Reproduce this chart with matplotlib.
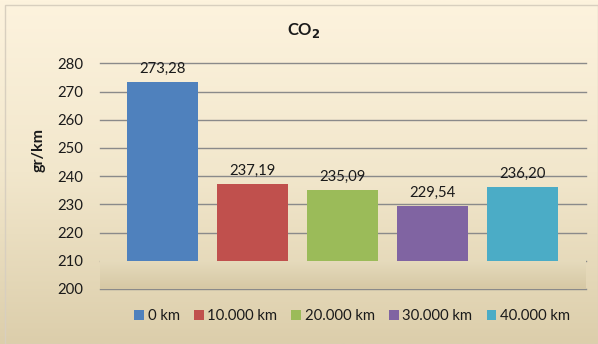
import numpy as np
import matplotlib
matplotlib.use('Agg')
import matplotlib.pyplot as plt
from matplotlib.colors import LinearSegmentedColormap
from matplotlib.patches import Rectangle, Patch

plt.rcParams['font.family'] = ['Lato', 'DejaVu Sans']

# data
distances = ['0 km', '10.000 km', '20.000 km', '30.000 km', '40.000 km']
co2 = [273.28, 237.19, 235.09, 229.54, 236.20]
colors = ['#4f81bd', '#c0504d', '#9bbb59', '#8064a2', '#4bacc6']
yticks = [200, 210, 220, 230, 240, 250, 260, 270, 280]
floor_top = 210

fig = plt.figure(figsize=(5.98, 3.44), dpi=100)

# background gradient over the whole chart
bg = fig.add_axes([0, 0, 1, 1], zorder=-10)
bg_cmap = LinearSegmentedColormap.from_list('bg', ['#fdf3de', '#f2e7cc', '#dcceab'])
grad = np.linspace(0, 1, 256).reshape(-1, 1)
bg.imshow(grad, aspect='auto', cmap=bg_cmap, extent=[0, 1, 0, 1], origin='upper')
bg.add_patch(Rectangle((0.008, 0.0), 0.992, 0.985, fill=False, edgecolor='#d8cfbf', lw=1))
bg.set_xlim(0, 1)
bg.set_ylim(0, 1)
bg.axis('off')

ax = fig.add_axes([100 / 598, 1 - 289 / 344, 486 / 598, (289 - 63.3) / 344])
ax.patch.set_alpha(0)

x = np.arange(len(distances))
xlim = (-0.694, len(distances) - 1 + 0.706)

# floor band between 200 and 210
floor_cmap = LinearSegmentedColormap.from_list('floor', ['#e6dbbd', '#d6c8a4'])
ax.imshow(grad, aspect='auto', cmap=floor_cmap, origin='upper',
          extent=[xlim[0], xlim[1], yticks[0], floor_top], zorder=1)
ax.set_xlim(xlim)
ax.set_ylim(yticks[0], yticks[-1])

bars = ax.bar(x, np.array(co2) - floor_top, bottom=floor_top, width=0.79,
              color=colors, zorder=3)

for xi, v in zip(x, co2):
    ax.annotate(('%.2f' % v).replace('.', ','), (xi, v), xytext=(0, 4.5),
                textcoords='offset points', ha='center', va='bottom',
                fontsize=10.7, color='#1a1a1a', zorder=4)

ax.set_yticks(yticks)
ax.set_xticks([])
ax.yaxis.grid(True, color='#8a8a8a', lw=1.0, zorder=2)
ax.set_axisbelow(True)
for gl in ax.yaxis.get_gridlines():
    gl.set_clip_on(False)
ax.tick_params(axis='y', length=0, pad=12, labelsize=10.7, labelcolor='#1a1a1a')
for s in ax.spines.values():
    s.set_visible(False)

ax.set_ylabel('gr/km', fontsize=11.5, fontweight='bold', color='#1a1a1a')
ax.yaxis.set_label_coords(-0.112, 0.616)
fig.text(0.508, 0.91, 'CO$_\\mathbf{2}$', ha='center', va='center',
         fontsize=12, fontweight='bold', color='#1a1a1a')

handles = [Patch(facecolor=c, label=d) for c, d in zip(colors, distances)]
fig.legend(handles=handles, loc='center', bbox_to_anchor=(0.589, 0.081), ncol=5,
           frameon=False, fontsize=10.7, handlelength=0.65, handleheight=0.65,
           handletextpad=0.25, columnspacing=0.95, labelcolor='#1a1a1a')

plt.savefig('out.png', dpi=100)
